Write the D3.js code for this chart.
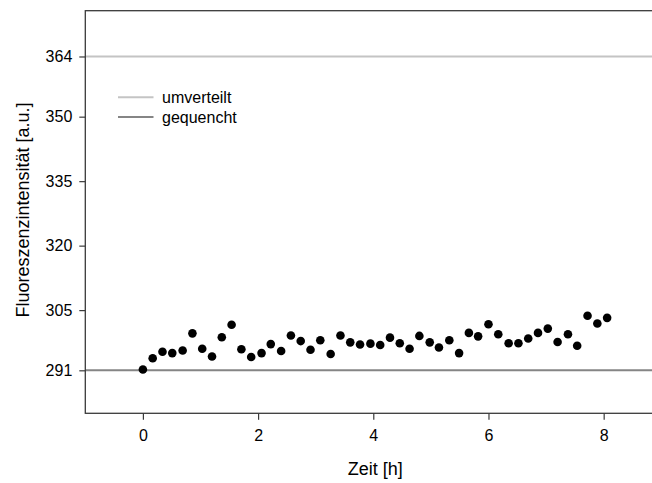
<!DOCTYPE html>
<html>
<head>
<meta charset="utf-8">
<script src="https://cdn.jsdelivr.net/npm/d3@7"></script>
<style>
  html, body { margin: 0; padding: 0; background: #fff; }
  svg { display: block; }
  text { font-family: "Liberation Sans", Arial, sans-serif; fill: #000; }
</style>
</head>
<body>
<svg id="chart" width="652" height="483"></svg>
<script>
// ---- data ----
const times = [0, 0.17, 0.34, 0.51, 0.69, 0.86, 1.03, 1.20, 1.37, 1.54, 1.71, 1.88,
  2.06, 2.22, 2.40, 2.57, 2.74, 2.91, 3.08, 3.26, 3.43, 3.60, 3.77, 3.95,
  4.12, 4.29, 4.46, 4.63, 4.80, 4.98, 5.14, 5.32, 5.49, 5.66, 5.82, 6.00,
  6.17, 6.35, 6.52, 6.69, 6.86, 7.03, 7.20, 7.38, 7.54, 7.72, 7.89, 8.06];
const intensity = [291.2, 293.8, 295.3, 295.0, 295.6, 299.6, 296.0, 294.2, 298.7, 301.6, 295.9, 294.1,
  295.0, 297.1, 295.5, 299.1, 297.8, 295.8, 298.0, 294.8, 299.1, 297.5, 297.0, 297.2,
  296.9, 298.6, 297.3, 296.0, 299.0, 297.5, 296.3, 298.0, 295.0, 299.7, 298.9, 301.7,
  299.4, 297.3, 297.3, 298.4, 299.7, 300.7, 297.6, 299.4, 296.7, 303.7, 301.9, 303.2];
const refNames = ["umverteilt", "gequencht"];
const refValues = [364, 291];
const refColors = ["#c4c4c4", "#858585"];
const xTicks = [0, 2, 4, 6, 8];
const yTicks = [291, 305, 320, 335, 350, 364];
const xLabel = "Zeit [h]";
const yLabel = "Fluoreszenzintensität [a.u.]";

// ---- layout ----
const plot = { left: 85.3, top: 10.7, right: 665.3, bottom: 413.3 };
const svg = d3.select("#chart");

const x = d3.scaleLinear().domain([-1, 9.07]).range([plot.left, plot.right]);
const y = d3.scaleLinear().domain([281, 374.65]).range([plot.bottom, plot.top]);

// reference lines
svg.append("g").selectAll("line").data(refValues).join("line")
  .attr("x1", plot.left).attr("x2", plot.right)
  .attr("y1", d => y(d)).attr("y2", d => y(d))
  .attr("stroke", (d, i) => refColors[i]).attr("stroke-width", 2);

// points
svg.append("g").selectAll("circle").data(times).join("circle")
  .attr("cx", d => x(d)).attr("cy", (d, i) => y(intensity[i]))
  .attr("r", 4.3).attr("fill", "#000");

// box
svg.append("rect")
  .attr("x", plot.left).attr("y", plot.top)
  .attr("width", plot.right - plot.left).attr("height", plot.bottom - plot.top)
  .attr("fill", "none").attr("stroke", "#3a3a3a").attr("stroke-width", 1.3);

// axes
const xAxis = svg.append("g").attr("transform", `translate(0,${plot.bottom})`)
  .call(d3.axisBottom(x).tickValues(xTicks).tickSize(6.5).tickPadding(9.5).tickFormat(d3.format("d")));
const yAxis = svg.append("g").attr("transform", `translate(${plot.left},0)`)
  .call(d3.axisLeft(y).tickValues(yTicks).tickSize(6).tickPadding(7).tickFormat(d3.format("d")));
[xAxis, yAxis].forEach(a => {
  a.select(".domain").remove();
  a.selectAll(".tick line").attr("stroke", "#3a3a3a").attr("stroke-width", 1.2);
  a.selectAll(".tick text").style("font-family", "'Liberation Sans', Arial, sans-serif")
    .style("font-size", "16px").attr("fill", "#000");
});

// axis titles
svg.append("text").attr("x", (plot.left + plot.right) / 2).attr("y", 475)
  .attr("text-anchor", "middle").style("font-size", "18px").text(xLabel);
svg.append("text").attr("transform", `translate(28.5,${(plot.top + plot.bottom) / 2 - 2}) rotate(-90)`)
  .attr("text-anchor", "middle").style("font-size", "18px").text(yLabel);

// legend
const lg = svg.append("g");
refNames.forEach((name, i) => {
  const ly = 97.3 + i * 19.6;
  lg.append("line").attr("x1", 118).attr("x2", 153.5).attr("y1", ly).attr("y2", ly)
    .attr("stroke", refColors[i]).attr("stroke-width", 2);
  lg.append("text").attr("x", 162).attr("y", ly).attr("dy", "0.35em")
    .style("font-size", "16px").text(name);
});
</script>
</body>
</html>
